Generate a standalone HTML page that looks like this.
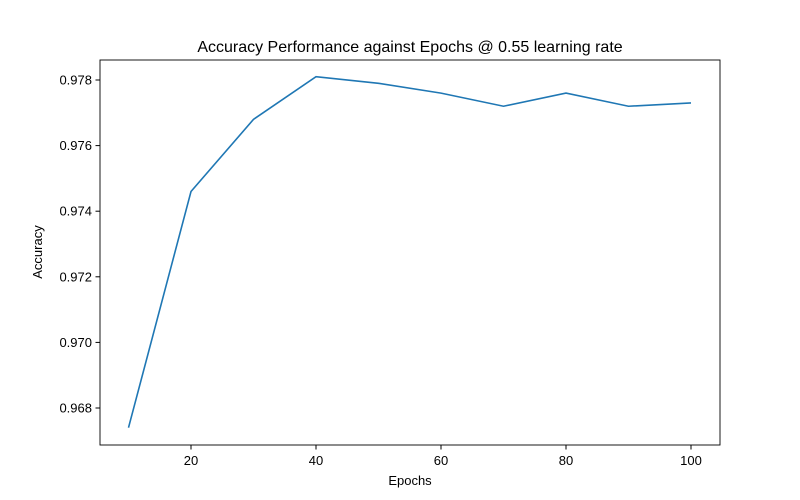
<!DOCTYPE html>
<html><head><meta charset="utf-8"><style>
body{margin:0;background:#fff;}
svg{display:block;font-family:"Liberation Sans","DejaVu Sans",sans-serif;}
</style></head><body>
<svg id="chart" width="800" height="500">
<rect width="800" height="500" fill="#fff"/>
<text x="410" y="52" text-anchor="middle" font-size="16">Accuracy Performance against Epochs @ 0.55 learning rate</text>
<text x="410" y="485" text-anchor="middle" font-size="13">Epochs</text>
<text transform="translate(42,252) rotate(-90)" text-anchor="middle" font-size="13">Accuracy</text>
<g id="ticks"></g>
<polyline id="line" fill="none" stroke="#1f77b4" stroke-width="1.6"/>
<rect x="100" y="60" width="620" height="385" fill="none" stroke="#000" stroke-width="0.9"/>
</svg>
<script>
const epochs=[10,20,30,40,50,60,70,80,90,100];
const accuracy=[0.9674,0.9746,0.9768,0.9781,0.9779,0.9776,0.9772,0.9776,0.9772,0.9773];
const xTicks=[20,40,60,80,100];
const yTicks=[0.968,0.970,0.972,0.974,0.976,0.978];
const ns="http://www.w3.org/2000/svg";
function xs(v){return 191+(v-20)*6.25;}
function ys(v){return 408-(v-0.968)*32800;}
document.getElementById('line').setAttribute('points',epochs.map((e,i)=>xs(e)+','+ys(accuracy[i])).join(' '));
const g=document.getElementById('ticks');
function mk(t,a){const el=document.createElementNS(ns,t);for(const k in a)el.setAttribute(k,a[k]);g.appendChild(el);return el;}
xTicks.forEach(t=>{const x=xs(t);
const l=mk('line',{x1:x,x2:x,y1:445,y2:449.5,stroke:'#000'});


const tx=mk('text',{x:x,y:465,'text-anchor':'middle','font-size':'13'});tx.textContent=t;

});
yTicks.forEach(t=>{const y=ys(t);
const l=mk('line',{x1:95.5,x2:100,y1:y,y2:y,stroke:'#000'});


const tx=mk('text',{x:92,y:y+4.5,'text-anchor':'end','font-size':'13'});tx.textContent=t.toFixed(3);

});
</script>
</body></html>
